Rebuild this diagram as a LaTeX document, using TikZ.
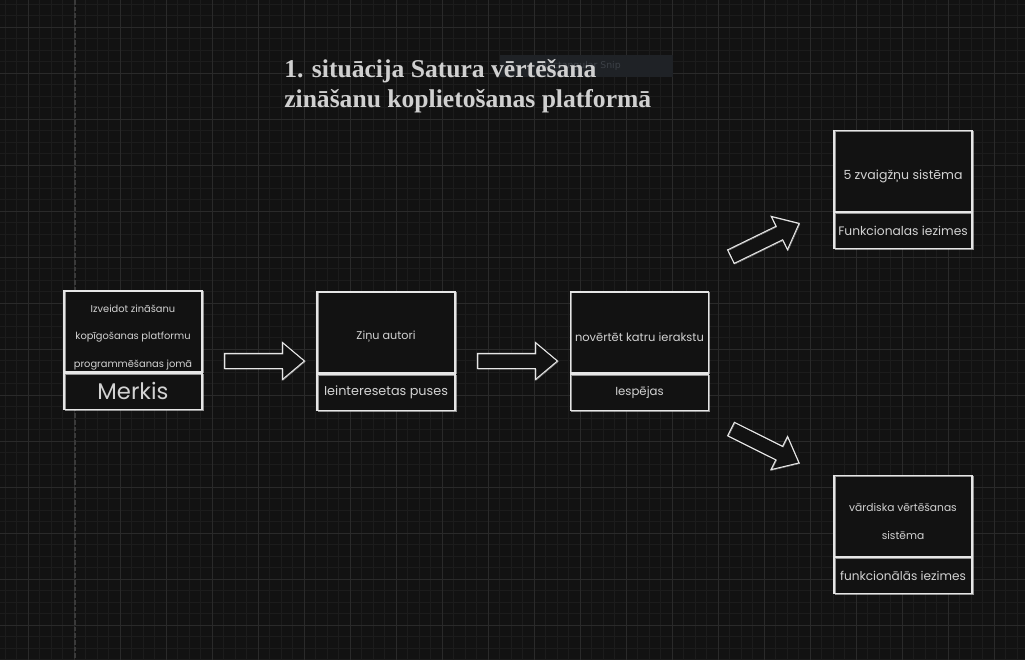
\documentclass[tikz,border=0pt]{standalone}
\usepackage{fontspec}
\setmainfont{Liberation Serif}
\newfontfamily\handfont{Poppins}
\newfontfamily\uifont{DejaVu Sans}
\usetikzlibrary{shapes.arrows}
\definecolor{bgc}{HTML}{121212}
\definecolor{minorc}{HTML}{1C1C1C}
\definecolor{majorc}{HTML}{2A2A2A}
\definecolor{dashc}{HTML}{3A3A3A}
\definecolor{inkc}{HTML}{E6E6E6}
\definecolor{txtc}{HTML}{D2D2D2}
\definecolor{titlec}{HTML}{D0D0D0}
\definecolor{snipc}{HTML}{1F2226}
\definecolor{sniptxt}{HTML}{3C4046}
\tikzset{
  sketch/.style={draw=inkc, line width=0.8pt, fill=bgc,
    postaction={draw=inkc, line width=0.35pt, opacity=0.6,
      transform canvas={shift={(0.6pt,-0.5pt)}}}},
  topbox/.style={sketch, rectangle, minimum width=103.5pt, minimum height=60.75pt, inner sep=0pt},
  botbox/.style={sketch, rectangle, minimum width=103.5pt, minimum height=27pt,
    inner sep=0pt, align=center, text=txtc, anchor=north},
  boxtext/.style={inner sep=0pt, align=center, text=txtc},
  hand/.style={font=\handfont\fontsize{#1}{20.6}\selectfont},
  blockarrow/.style={single arrow, draw=inkc, line width=0.8pt, fill=bgc,
    single arrow head extend=8.25pt, single arrow tip angle=80,
    inner xsep=0pt, inner ysep=5.25pt, minimum height=60pt,
    postaction={draw=inkc, line width=0.35pt, opacity=0.6,
      transform canvas={shift={(0.5pt,-0.5pt)}}}},
}
\begin{document}
\begin{tikzpicture}[x=0.75pt,y=-0.75pt]
\useasboundingbox (0,0) rectangle (1025,660);
\fill[bgc] (0,0) rectangle (1025,660);
% grid
\foreach \i in {0,...,89} {\draw[minorc, line width=0.5pt] ({5.3+11.5*\i},0) -- ({5.3+11.5*\i},660);}
\foreach \i in {0,...,58} {\draw[minorc, line width=0.5pt] (0,{4+11.5*\i}) -- (1025,{4+11.5*\i});}
\foreach \i in {0,...,22} {\draw[majorc, line width=0.6pt] ({28.3+46*\i},0) -- ({28.3+46*\i},660);}
\foreach \i in {0,...,14} {\draw[majorc, line width=0.6pt] (0,{27+46*\i}) -- (1025,{27+46*\i});}
\draw[dashc, line width=0.8pt, dash pattern=on 3.5pt off 1.5pt] (75,0) -- (75,660);

% snip overlay
\node[fill=snipc, minimum width=129.75pt, minimum height=16.5pt, inner sep=0pt] (snip) at (586.5,66) {};
\node[anchor=east, text=sniptxt, font=\uifont\fontsize{7}{8}\selectfont, inner sep=0pt] (sniplabel) at (621,66) {Rectangular Snip};

% title
\node[anchor=west, align=left, text=titlec, inner sep=0pt,
      font=\bfseries\fontsize{19.2}{22.5}\selectfont] (title) at (284,86)
  {1. situācija Satura vērtēšana\\zināšanu koplietošanas platformā};

% boxes
\node[topbox] (b1) at (133,331.5) {};
\node[boxtext, hand=7.4] (b1t) at (133,337.5) {Izveidot zināšanu\\kopīgošanas platformu\\programmēšanas jomā};
\node[botbox, font=\handfont\fontsize{17}{19}\selectfont] (b1b) at (b1.south) {Merkis};

\node[topbox] (b2) at (386,332.5) {};
\node[boxtext, hand=8.4] (b2t) at (386,337) {Ziņu autori};
\node[botbox, font=\handfont\fontsize{9.6}{11}\selectfont] (b2b) at (b2.south) {Ieinteresetas puses};

\node[topbox] (b3) at (639.5,332.5) {};
\node[boxtext, hand=8.6] (b3t) at (639.5,337.5) {novērtēt katru ierakstu};
\node[botbox, font=\handfont\fontsize{8.8}{10}\selectfont] (b3b) at (b3.south) {Iespējas};

\node[topbox] (b4) at (903,171) {};
\node[boxtext, hand=9.4] (b4t) at (903,176) {5 zvaigžņu sistēma};
\node[botbox, font=\handfont\fontsize{9.2}{10}\selectfont] (b4b) at (b4.south) {Funkcionalas iezimes};

\node[topbox] (b5) at (903,516) {};
\node[boxtext, font=\handfont\fontsize{8}{21}\selectfont] (b5t) at (903,521) {vārdiska vērtēšanas\\sistēma};
\node[botbox, font=\handfont\fontsize{9.1}{10}\selectfont] (b5b) at (b5.south) {funkcionālās iezimes};

% block arrows
\node[blockarrow] (a1) at (260,361) {};
\node[blockarrow] (a2) at (513,361) {};
\node[blockarrow, minimum height=57pt, rotate=26] (a3) at (761,242) {};
\node[blockarrow, minimum height=57pt, rotate=-26.5] (a4) at (761,444) {};
\end{tikzpicture}
\end{document}
